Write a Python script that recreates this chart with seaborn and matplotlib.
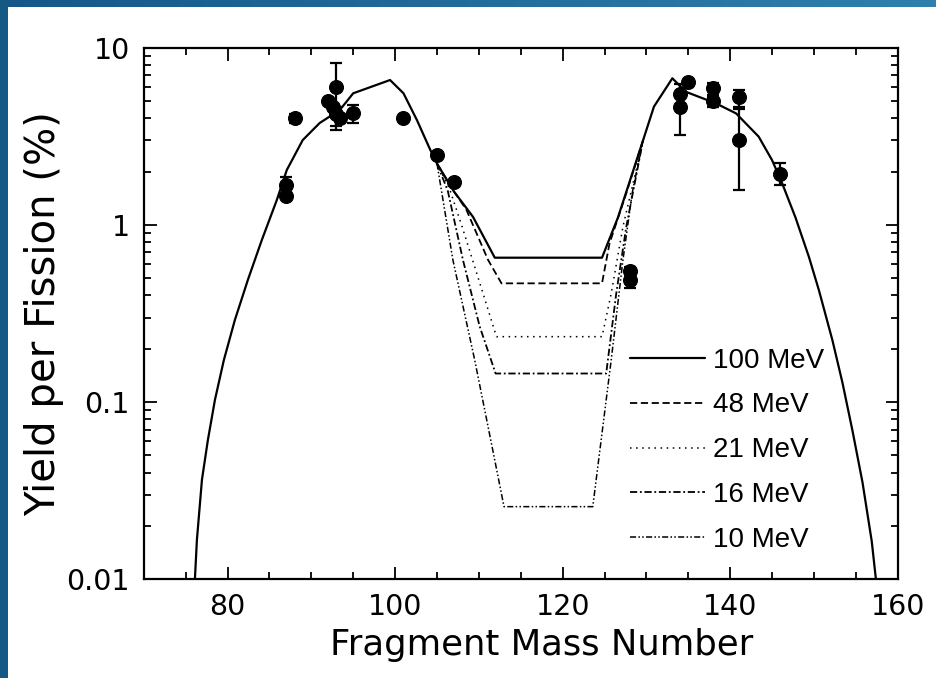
import numpy as np
import pandas as pd
import seaborn as sns
import matplotlib.pyplot as plt
from matplotlib.ticker import FixedLocator, MultipleLocator, NullFormatter, FixedFormatter
from matplotlib.lines import Line2D
from matplotlib.colors import LinearSegmentedColormap
from matplotlib.patches import Rectangle

sns.set_style("ticks")
plt.rcParams["font.family"] = ["Liberation Sans", "DejaVu Sans"]
plt.rcParams["text.color"] = "black"
plt.rcParams["axes.labelcolor"] = "black"

# ---- model curves: yield (%) vs fragment mass number ----
energies = ["100 MeV", "48 MeV", "21 MeV", "16 MeV", "10 MeV"]

# light-fragment wing, shared by all energies
outer_left_A = [76.10, 76.34, 76.94, 77.65, 78.49, 79.56, 80.87, 82.42, 84.09, 85.88,
                87.07, 88.97, 91.0, 93.4, 95.0, 99.4, 101.0, 102.6, 104.2, 105.0]
outer_left_Y = [0.01, 0.0167, 0.0364, 0.0611, 0.1028, 0.1729, 0.2904, 0.4887, 0.8219, 1.382,
                2.04, 3.01, 3.76, 4.45, 5.53, 6.57, 5.53, 3.91, 2.65, 2.22]

# heavy-fragment wing, shared by all energies
outer_right_A = [129.6, 130.9, 133.1, 134.7, 138.3, 140.7, 143.4, 145.0, 146.2, 147.8,
                 149.4, 150.6, 152.2, 153.4, 154.6, 155.8, 156.9, 157.4]
outer_right_Y = [3.0, 4.65, 6.72, 5.64, 4.85, 4.26, 3.15, 2.32, 1.72, 1.10,
                 0.66, 0.427, 0.224, 0.129, 0.069, 0.0352, 0.0164, 0.01]

# symmetric-fission valley for each excitation energy
valley_A = {
    "100 MeV": [107.0, 109.3, 111.9, 124.7, 126.6],
    "48 MeV": [106.8, 108.5, 111.1, 112.7, 124.7, 125.6, 127.6],
    "21 MeV": [106.5, 108.0, 110.5, 112.1, 124.7, 125.8, 127.2],
    "16 MeV": [106.3, 108.1, 110.1, 112.0, 125.2, 126.4, 127.6],
    "10 MeV": [106.9, 109.5, 111.9, 113.0, 123.6, 125.8, 127.2, 128.3],
}
valley_Y = {
    "100 MeV": [1.55, 1.11, 0.653, 0.653, 1.10],
    "48 MeV": [1.6, 1.22, 0.634, 0.468, 0.468, 0.787, 1.51],
    "21 MeV": [1.6, 0.977, 0.41, 0.234, 0.234, 0.41, 0.977],
    "16 MeV": [1.55, 0.634, 0.267, 0.145, 0.145, 0.41, 0.977],
    "10 MeV": [0.634, 0.173, 0.047, 0.0257, 0.0257, 0.173, 0.634, 1.51],
}

# ---- measured yields with error bounds ----
meas_A = [87, 87, 88, 92, 92.6, 93, 93, 93.4, 95, 101, 105, 107, 128, 128,
          134, 134, 135, 138, 138, 141, 141, 146]
meas_Y = [1.68, 1.45, 4.0, 5.0, 4.6, 6.0, 4.2, 4.0, 4.3, 4.0, 2.48, 1.75, 0.55, 0.49,
          5.5, 4.6, 6.4, 5.9, 5.0, 5.3, 3.0, 1.95]
meas_lo = [1.5, 1.45, 3.75, 5.0, 4.6, 3.43, 3.6, 4.0, 3.74, 4.0, 2.48, 1.75, 0.5, 0.44,
           3.2, 4.6, 6.4, 5.4, 4.6, 4.6, 1.57, 1.68]
meas_hi = [1.87, 1.45, 4.2, 5.0, 4.6, 8.17, 4.6, 4.0, 4.75, 4.0, 2.48, 1.75, 0.58, 0.52,
           6.2, 4.6, 6.4, 6.3, 5.3, 5.8, 4.5, 2.23]

# x / y axis ticks
x_major = [80, 100, 120, 140, 160]
y_major = [0.01, 0.1, 1, 10]
y_labels = ["0.01", "0.1", "1", "10"]

# ---- assemble long-form table ----
frames = []
for e in energies:
    if e == "100 MeV":
        A = outer_left_A + valley_A[e] + outer_right_A
        Y = outer_left_Y + valley_Y[e] + outer_right_Y
    else:
        A = [outer_left_A[-1]] + valley_A[e] + [outer_right_A[0]]
        Y = [outer_left_Y[-1]] + valley_Y[e] + [outer_right_Y[0]]
    frames.append(pd.DataFrame({"A": A, "Y": Y, "E": e}))
curves = pd.concat(frames, ignore_index=True)
meas = pd.DataFrame({"A": meas_A, "Y": meas_Y, "lo": meas_lo, "hi": meas_hi})

dash_map = {
    "100 MeV": "",
    "48 MeV": (4, 2),
    "21 MeV": (1, 3),
    "16 MeV": (4, 1.5, 1, 1.5),
    "10 MeV": (4, 1.5, 1, 1.5, 1, 1.5),
}
width_map = {"100 MeV": 1.6, "48 MeV": 1.3, "21 MeV": 1.1, "16 MeV": 1.3, "10 MeV": 1.1}

fig = plt.figure(figsize=(9.36, 6.78), dpi=100, facecolor="white")
ax = fig.add_axes([143.8 / 936, 1 - 579.3 / 678, (897.7 - 143.8) / 936, (579.3 - 47.7) / 678])

for e in energies[::-1]:
    sub = curves[curves["E"] == e]
    sns.lineplot(data=sub, x="A", y="Y", ax=ax, color="black", sort=False,
                 estimator=None, lw=width_map[e], dashes=False, legend=False,
                 zorder=3 if e == "100 MeV" else 2)
    line = ax.lines[-1]
    if dash_map[e]:
        line.set_dashes(dash_map[e])

ax.errorbar(meas["A"], meas["Y"],
            yerr=[meas["Y"] - meas["lo"], meas["hi"] - meas["Y"]],
            fmt="none", ecolor="black", elinewidth=1.6, capsize=4.5, capthick=1.6, zorder=4)
sns.scatterplot(data=meas, x="A", y="Y", ax=ax, color="black", edgecolor="black",
                s=100, marker="o", zorder=5, legend=False)

ax.set_yscale("log")
ax.set_xlim(70, 160)
ax.set_ylim(0.01, 10)
ax.xaxis.set_major_locator(FixedLocator(x_major))
ax.xaxis.set_minor_locator(MultipleLocator(5))
ax.yaxis.set_major_locator(FixedLocator(y_major))
ax.yaxis.set_major_formatter(FixedFormatter(y_labels))
ax.yaxis.set_minor_formatter(NullFormatter())
ax.tick_params(which="both", direction="in", top=True, right=True, width=1.3,
               colors="black", labelcolor="black")
ax.tick_params(which="major", length=9, labelsize=20.5, pad=10)
ax.tick_params(which="minor", length=5)
for lab in ax.get_xticklabels() + ax.get_yticklabels():
    lab.set_family("DejaVu Sans")
for s in ax.spines.values():
    s.set_linewidth(1.6)
    s.set_color("black")

ax.set_xlabel("Fragment Mass Number", fontsize=25.5, family="DejaVu Sans", color="black")
ax.set_ylabel("Yield per Fission (%)", fontsize=29, family="DejaVu Sans", color="black")
ax.xaxis.set_label_coords((542 - 143.8) / 753.9, (579.3 - 628) / 531.6)
ax.yaxis.set_label_coords((64 - 143.8) / 753.9, 0.5)

handles = [Line2D([], [], color="black", lw=width_map[e]) for e in energies]
for h, e in zip(handles, energies):
    if dash_map[e]:
        h.set_dashes(dash_map[e])
leg = ax.legend(handles, energies, loc="upper left", bbox_to_anchor=(0.645, 0.436),
                frameon=False, fontsize=20, handlelength=2.7, handletextpad=0.3,
                labelspacing=0.68, borderpad=0, borderaxespad=0)
for t in leg.get_texts():
    t.set_color("black")

# blue page border
cmap = LinearSegmentedColormap.from_list("band", ["#155888", "#2f80ad"])
band = fig.add_axes([0, 1 - 7 / 678, 1, 7 / 678])
band.imshow(np.linspace(0, 1, 256)[None, :], aspect="auto", cmap=cmap)
band.axis("off")
fig.patches.append(Rectangle((0, 0), 8 / 936, 1, transform=fig.transFigure,
                             facecolor="#145884", edgecolor="none", zorder=10))

fig.savefig("out.png", dpi=100, facecolor="white")
